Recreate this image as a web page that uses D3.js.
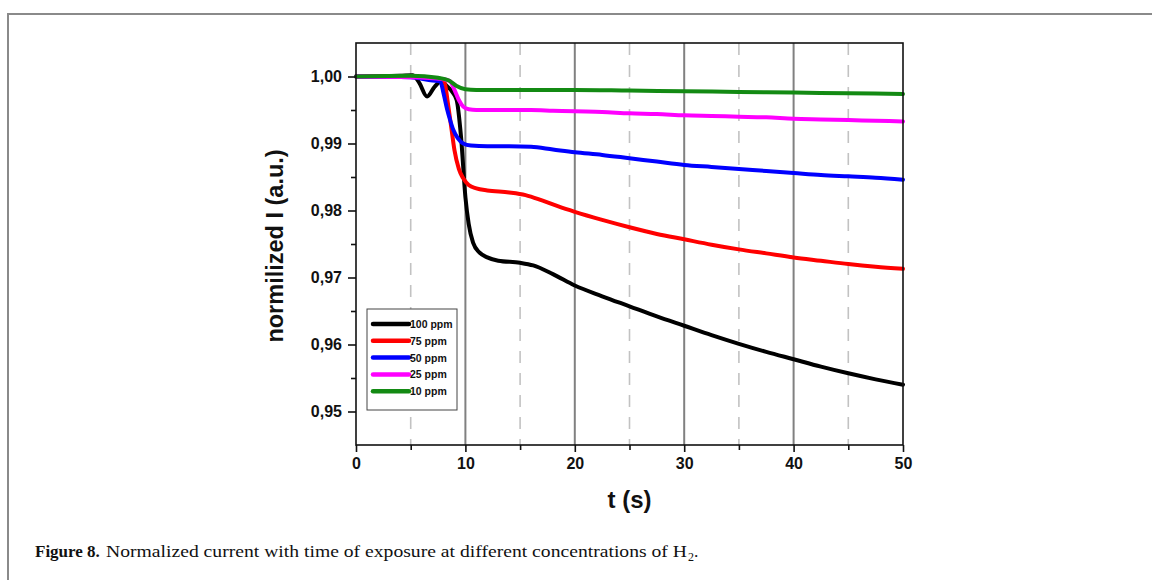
<!DOCTYPE html>
<html><head><meta charset="utf-8">
<script src="https://cdn.jsdelivr.net/npm/d3@7"></script>
<style>html,body{margin:0;padding:0;background:#fff;}svg{display:block;}</style>
</head><body>
<svg id="chart" width="1152" height="580"></svg>
<script>
// ---- data ----
const seriesNames = ["100 ppm", "75 ppm", "50 ppm", "25 ppm", "10 ppm"];
const seriesColors = ["#000000", "#ff0000", "#0000ff", "#ff00ff", "#138a13"];

const t100 = [0, 4, 5.2, 5.8, 6.5, 7.2, 7.8, 8.3, 8.8, 9.2, 9.6, 10.0, 10.3, 10.7, 11.3, 12, 13, 15, 16.2, 18, 20, 22.5, 25, 27.5, 30, 32.5, 35, 37.5, 40, 42.5, 45, 47.5, 50];
const v100 = [1.000, 1.0001, 1.0002, 0.9990, 0.9970, 0.9985, 0.9993, 0.9986, 0.9977, 0.9965, 0.9910, 0.9820, 0.9780, 0.9752, 0.9737, 0.9730, 0.9725, 0.9722, 0.9718, 0.9705, 0.9688, 0.9672, 0.9657, 0.9642, 0.9628, 0.9614, 0.9601, 0.9589, 0.9578, 0.9567, 0.9557, 0.9548, 0.9540];

const t75 = [0, 5, 7.5, 8.1, 8.4, 8.7, 9.0, 9.4, 9.8, 10.3, 11, 12, 14, 15.5, 17, 18.5, 20, 22.5, 25, 27.5, 30, 32.5, 35, 37.5, 40, 42.5, 45, 47.5, 50];
const v75 = [1.000, 1.0000, 0.9995, 0.9990, 0.9960, 0.9925, 0.9890, 0.9862, 0.9848, 0.9838, 0.9833, 0.9830, 0.9827, 0.9823, 0.9815, 0.9806, 0.9798, 0.9786, 0.9775, 0.9765, 0.9757, 0.9749, 0.9742, 0.9736, 0.9730, 0.9725, 0.9720, 0.9716, 0.9713];

const t50 = [0, 5, 7.0, 7.7, 8.0, 8.3, 8.6, 8.9, 9.3, 9.8, 10.5, 12, 14, 16, 18, 20, 22.5, 25, 27.5, 30, 32.5, 35, 37.5, 40, 42.5, 45, 47.5, 50];
const v50 = [1.000, 0.9999, 0.9994, 0.9993, 0.9975, 0.9953, 0.9935, 0.9920, 0.9908, 0.9900, 0.9897, 0.9896, 0.9896, 0.9895, 0.9891, 0.9887, 0.9883, 0.9878, 0.9873, 0.9868, 0.9865, 0.9862, 0.9859, 0.9856, 0.9853, 0.9851, 0.9849, 0.9846];

const t25 = [0, 5, 8.0, 8.6, 9.0, 9.4, 9.8, 10.3, 11, 12, 14, 16, 18, 20, 22.5, 25, 27.5, 30, 32.5, 35, 37.5, 40, 42.5, 45, 47.5, 50];
const v25 = [1.000, 0.9999, 0.9996, 0.9993, 0.9980, 0.9965, 0.9955, 0.9951, 0.9950, 0.9950, 0.9950, 0.9950, 0.9949, 0.9948, 0.9947, 0.9945, 0.9944, 0.9942, 0.9941, 0.9940, 0.9939, 0.9937, 0.9936, 0.9935, 0.9934, 0.9933];

const t10 = [0, 5, 7.5, 8.5, 9.2, 10, 11, 13, 15, 20, 25, 30, 35, 40, 45, 50];
const v10 = [1.000, 1.0001, 0.9998, 0.9994, 0.9986, 0.9981, 0.9980, 0.9980, 0.9980, 0.9980, 0.9979, 0.9978, 0.9977, 0.9976, 0.9975, 0.9974];

const yTickValues = [0.95, 0.96, 0.97, 0.98, 0.99, 1.00];
const yMinorValues = [0.955, 0.965, 0.975, 0.985, 0.995];
const xTickValues = [0, 10, 20, 30, 40, 50];
const xMinorValues = [5, 15, 25, 35, 45];
const solidGrid = [10, 20, 30, 40];
const dashedGrid = [5, 15, 25, 35, 45];

const xTitle = "t (s)";
const yTitle = "normilized I (a.u.)";
const captionBold = "Figure 8.";
const captionText = "Normalized current with time of exposure at different concentrations of H";

// ---- layout ----
const svg = d3.select("#chart");
const pLeft = 356, pRight = 903, pTop = 43, pBottom = 445;
const x = d3.scaleLinear().domain([0, 50]).range([pLeft, pRight]);
const y = d3.scaleLinear().domain([0.945, 1.005]).range([pBottom, pTop]);

// page frame (top and left edges)
svg.append("path").attr("d", "M8,1000 L8,14 L1160,14")
  .attr("fill", "none").attr("stroke", "#8a8a8a").attr("stroke-width", 2);

// grid lines
svg.append("g").selectAll("line").data(dashedGrid).join("line")
  .attr("x1", d => x(d)).attr("x2", d => x(d)).attr("y1", pTop).attr("y2", pBottom)
  .attr("stroke", "#c2c2c2").attr("stroke-width", 1.6).attr("stroke-dasharray", "12,10");
svg.append("g").selectAll("line").data(solidGrid).join("line")
  .attr("x1", d => x(d)).attr("x2", d => x(d)).attr("y1", pTop).attr("y2", pBottom)
  .attr("stroke", "#808080").attr("stroke-width", 2);

// curves
const series = [
  {name: seriesNames[0], color: seriesColors[0], t: t100, v: v100},
  {name: seriesNames[1], color: seriesColors[1], t: t75, v: v75},
  {name: seriesNames[2], color: seriesColors[2], t: t50, v: v50},
  {name: seriesNames[3], color: seriesColors[3], t: t25, v: v25},
  {name: seriesNames[4], color: seriesColors[4], t: t10, v: v10}
];
const line = d3.line().x(d => x(d[0])).y(d => y(d[1])).curve(d3.curveMonotoneX);
svg.append("g").selectAll("path").data(series).join("path")
  .attr("d", s => line(s.t.map((tt, i) => [tt, s.v[i]])))
  .attr("fill", "none").attr("stroke", s => s.color).attr("stroke-width", 4)
  .attr("stroke-linejoin", "round").attr("stroke-linecap", "round");

// plot box
svg.append("rect").attr("x", pLeft).attr("y", pTop).attr("width", pRight - pLeft).attr("height", pBottom - pTop)
  .attr("fill", "none").attr("stroke", "#111").attr("stroke-width", 1.6);

// axes
const fmt = d => d3.format(".2f")(d).replace(".", ",");
svg.append("g").attr("transform", `translate(${pLeft},0)`)
  .call(d3.axisLeft(y).tickValues(yTickValues).tickFormat(fmt).tickSize(8).tickPadding(6));
svg.append("g").attr("transform", `translate(${pLeft},0)`)
  .call(d3.axisLeft(y).tickValues(yMinorValues).tickFormat("").tickSize(5));
svg.append("g").attr("transform", `translate(0,${pBottom})`)
  .call(d3.axisBottom(x).tickValues(xTickValues).tickSize(7).tickPadding(6));
svg.append("g").attr("transform", `translate(0,${pBottom})`)
  .call(d3.axisBottom(x).tickValues(xMinorValues).tickFormat("").tickSize(5));
svg.selectAll(".domain").remove();
svg.selectAll(".tick line").attr("stroke", "#111").attr("stroke-width", 1.6);
svg.selectAll(".tick text").attr("font-family", "Liberation Sans, Arial, sans-serif")
  .attr("font-weight", "bold").attr("font-size", 16).attr("fill", "#111");

// titles
svg.append("text").attr("x", x(25)).attr("y", 508).attr("text-anchor", "middle")
  .attr("font-family", "Liberation Sans, Arial, sans-serif").attr("font-weight", "bold")
  .attr("font-size", 24).attr("fill", "#111").text(xTitle);
svg.append("text").attr("transform", `translate(283,246) rotate(-90)`)
  .attr("text-anchor", "middle")
  .attr("font-family", "Liberation Sans, Arial, sans-serif").attr("font-weight", "bold")
  .attr("font-size", 23.5).attr("fill", "#111").text(yTitle);

// legend
const lg = svg.append("g").attr("transform", "translate(367,309)");
lg.append("rect").attr("width", 90).attr("height", 101).attr("fill", "#fff")
  .attr("stroke", "#444").attr("stroke-width", 1);
const rows = lg.selectAll("g").data(series).join("g")
  .attr("transform", (d, i) => `translate(0,${15 + i * 16.8})`);
rows.append("line").attr("x1", 6).attr("x2", 42).attr("y1", 0).attr("y2", 0)
  .attr("stroke", d => d.color).attr("stroke-width", 4.5).attr("stroke-linecap", "round");
rows.append("text").attr("x", 43).attr("y", 4)
  .attr("font-family", "Liberation Sans, Arial, sans-serif").attr("font-weight", "bold")
  .attr("font-size", 10.5).attr("fill", "#111").text(d => d.name);

// caption
svg.append("text").attr("x", 35).attr("y", 557)
  .attr("font-family", "Liberation Serif, Times New Roman, serif").attr("font-size", 17)
  .attr("font-weight", "bold").attr("fill", "#111").text(captionBold);
svg.append("text").attr("x", 106).attr("y", 557)
  .attr("font-family", "Liberation Serif, Times New Roman, serif").attr("font-size", 17.5)
  .attr("fill", "#111").attr("textLength", 581).attr("lengthAdjust", "spacingAndGlyphs")
  .text(captionText);
svg.append("text").attr("x", 688).attr("y", 561)
  .attr("font-family", "Liberation Serif, Times New Roman, serif").attr("font-size", 12)
  .attr("fill", "#111").text("2");
svg.append("text").attr("x", 694).attr("y", 557)
  .attr("font-family", "Liberation Serif, Times New Roman, serif").attr("font-size", 17.5)
  .attr("fill", "#111").text(".");
</script>
</body></html>
